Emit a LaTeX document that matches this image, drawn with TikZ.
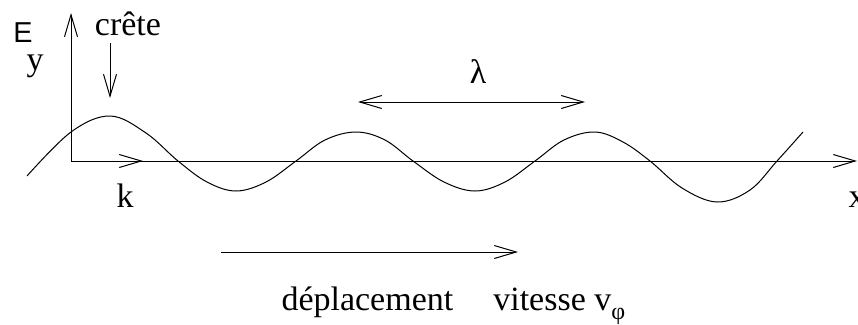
\documentclass[tikz,border=0pt]{standalone}
\usepackage{fontspec}
\setmainfont{Liberation Serif}
\setsansfont{Liberation Sans}
\usetikzlibrary{arrows.meta, positioning}
\tikzset{
  every picture/.style={line width=1pt},
  arrow/.style={-{Straight Barb[length=22pt, width=13pt]}},
  darrow/.style={{Straight Barb[length=22pt, width=13pt]}-{Straight Barb[length=22pt, width=13pt]}},
  lbl/.style={font=\fontsize{34}{40}\selectfont, inner sep=0pt},
  axlbl/.style={font=\sffamily\fontsize{12}{14}\selectfont, inner sep=0pt, scale=2.4},
}
\begin{document}
\begin{tikzpicture}[x=1pt, y=-1pt]
  \useasboundingbox (0,0) rectangle (858,324);
  % axes
  \coordinate (O) at (71,161);
  \coordinate (ytop) at (71,13);
  \coordinate (xend) at (857,161);
  \coordinate (ktip) at (143,161);
  \draw[arrow] (O) -- (ytop);
  \draw[arrow] (O) -- (xend);
  \draw[arrow] (O) -- (ktip);
  \node[axlbl, anchor=base] (Elbl) at (23,42) {E};
  \node[lbl, anchor=base] (y) at (35,70) {y};
  \node[lbl, anchor=base] (k) at (125,207) {k};
  \node[lbl, anchor=base west] (x) at (848,207) {x};
  % the wave
  \draw plot[smooth, tension=0.6] coordinates {(27,176) (71,132) (110,116) (146,133) (178,161)
    (207,182) (236,191) (266,182) (296,161) (325,140) (356,132) (385,140) (413,161)
    (444,182) (475,191) (505,182) (535,161) (564,140) (595,132) (623,142) (650,161)
    (682,188) (717,202) (750,190) (777,161) (803,132)};
  % crest
  \node[lbl, anchor=base] (crete) at (128,35) {crête};
  \coordinate (crtop) at (110,43);
  \coordinate (crtip) at (110,98);
  \draw[arrow] (crtop) -- (crtip);
  % wavelength
  \node[lbl] (lam) at (478,72) {λ};
  \coordinate (lamL) at (358,102);
  \coordinate (lamR) at (585,102);
  \draw[darrow] (lamL) -- (lamR);
  % displacement
  \coordinate (dL) at (221,252);
  \coordinate (dR) at (518,252);
  \draw[arrow] (dL) -- (dR);
  \node[lbl, anchor=base west] (depl) at (281,310) {déplacement\hspace{40pt}vitesse v\raisebox{-9pt}{\fontsize{24}{24}\selectfont φ}};
\end{tikzpicture}
\end{document}
